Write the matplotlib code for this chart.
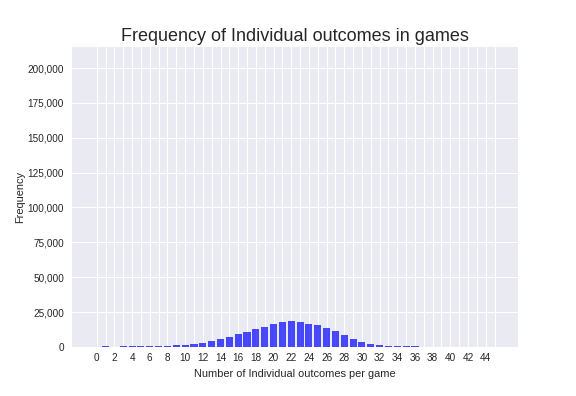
import matplotlib
matplotlib.use("Agg")
import matplotlib.pyplot as plt
from matplotlib.ticker import FuncFormatter

# outcomes per game and how often they occurred
outcomes = [1, 3, 4, 5, 6, 7, 8, 9, 10, 11, 12, 13, 14, 15, 16, 17, 18,
            19, 20, 21, 22, 23, 24, 25, 26, 27, 28, 29, 30, 31, 32, 33,
            34, 35, 36]
counts = [600, 400, 500, 600, 700, 800, 900, 1400, 1600, 2200, 2900,
          4300, 5800, 7200, 9400, 10800, 13000, 14400, 16600, 18000,
          18700, 18000, 16600, 15800, 13700, 11500, 8600, 5800, 3600,
          2200, 1400, 700, 500, 400, 300]

tick_positions = list(range(0, 46))
tick_labels = [str(t) if t % 2 == 0 and t <= 44 else "" for t in tick_positions]

plt.style.use("seaborn-v0_8-darkgrid")
plt.rcParams["font.family"] = ["Liberation Sans", "DejaVu Sans"]
plt.rcParams["grid.linewidth"] = 1.0

fig = plt.figure(figsize=(8, 5.5), dpi=72)
fig.subplots_adjust(left=0.125, right=0.9, bottom=0.124, top=0.881)
ax = fig.add_subplot(111)

ax.bar(outcomes, counts, width=0.8, color="blue", alpha=0.7)

ax.set_xticks(tick_positions)
ax.set_xticklabels(tick_labels, fontsize=10)
ax.tick_params(axis="y", labelsize=10, pad=8)
ax.tick_params(axis="x", pad=6)
ax.yaxis.set_major_formatter(FuncFormatter(lambda v, p: f"{int(v):,}"))
ax.set_xlim(-2.8, 47.7)
ax.set_ylim(0, 215000)

ax.set_title("Frequency of Individual outcomes in games", fontsize=18)
ax.set_xlabel("Number of Individual outcomes per game", fontsize=11, labelpad=6)
ax.set_ylabel("Frequency", fontsize=11, labelpad=2)

fig.savefig("out.png", dpi=72)
